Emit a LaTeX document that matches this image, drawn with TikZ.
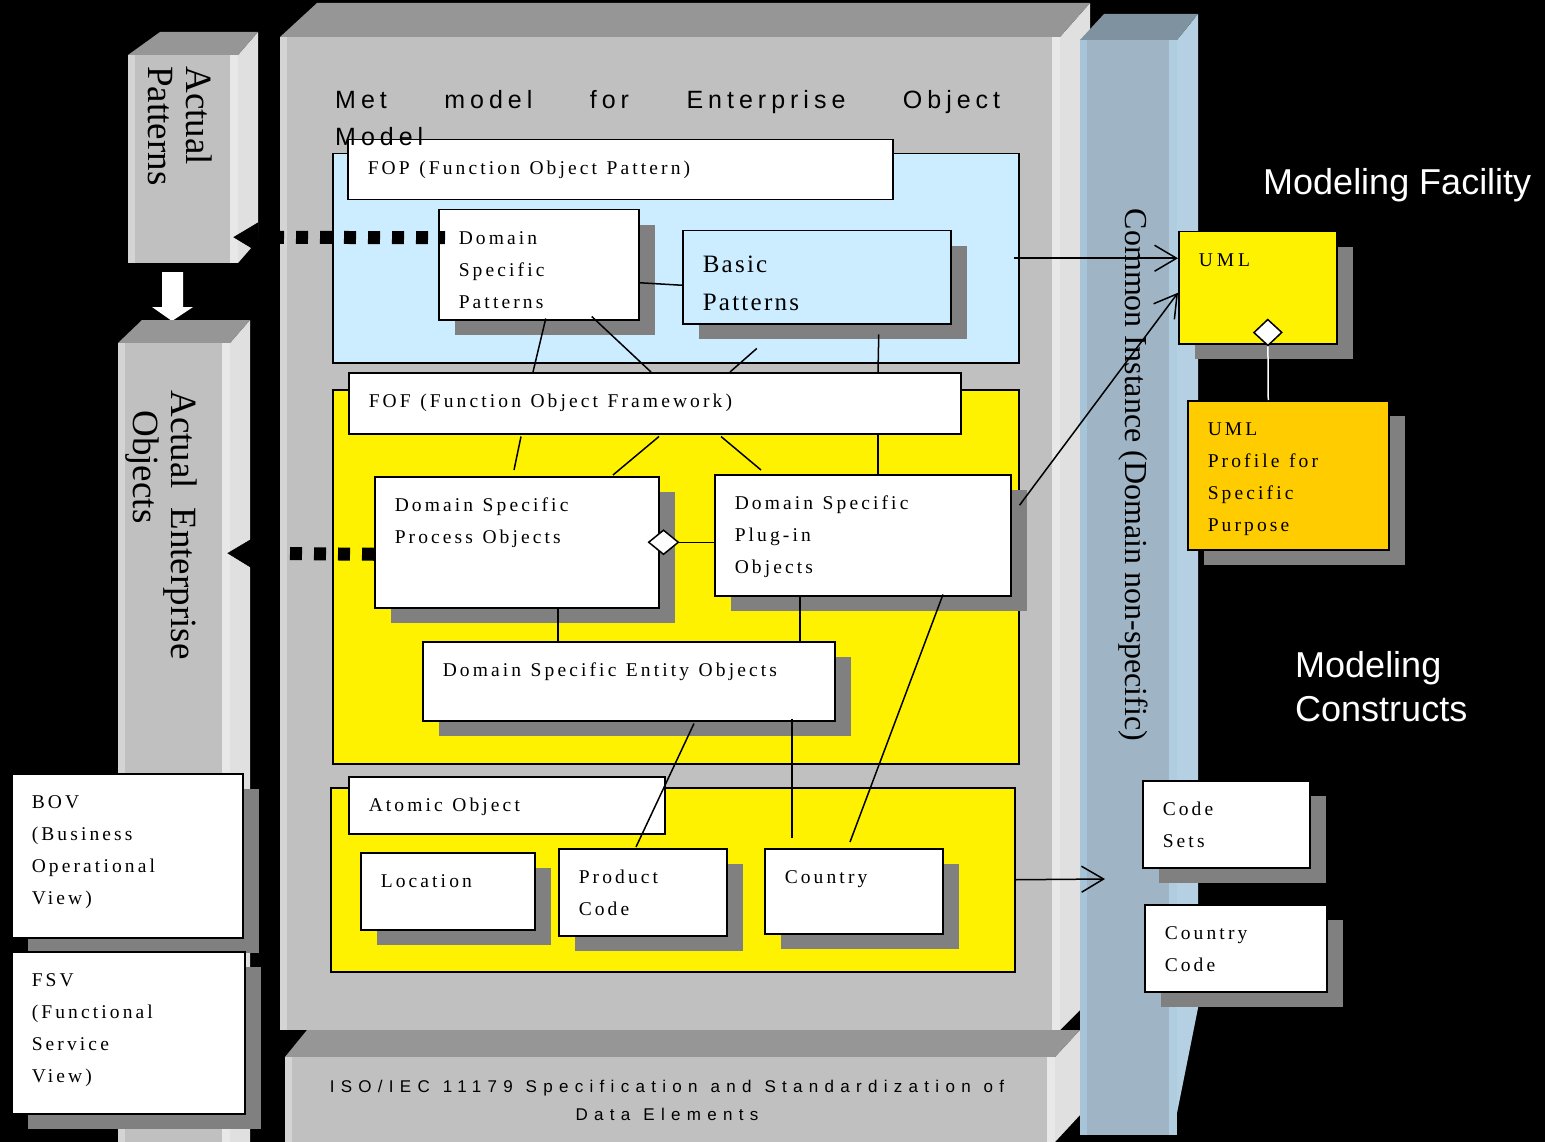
\documentclass[tikz,border=0pt]{standalone}
\usepackage{fontspec}
\usepackage{tikz}
\usetikzlibrary{arrows.meta,shadows}
\setmainfont{Liberation Serif}
\newfontfamily\objfont[LetterSpace=16]{Liberation Serif}
\newfontfamily\basicfont[LetterSpace=9]{Liberation Serif}
\newfontfamily\headfont[LetterSpace=20]{Liberation Sans}
\newfontfamily\isofont[LetterSpace=37]{Liberation Sans}
\newfontfamily\capfont{Liberation Sans}
\definecolor{shadowgray}{HTML}{808080}
\definecolor{slabfront}{HTML}{C0C0C0}
\definecolor{slabtop}{HTML}{969696}
\definecolor{slabside}{HTML}{E0E0E0}
\definecolor{slableft}{HTML}{D4D4D4}
\definecolor{slabright}{HTML}{E8E8E8}
\definecolor{cifront}{HTML}{9FB5C6}
\definecolor{citop}{HTML}{7E929F}
\definecolor{ciside}{HTML}{B4D0E2}
\definecolor{cileft}{HTML}{A8C4D8}
\definecolor{ciright}{HTML}{B0CDE0}
\definecolor{fopblue}{HTML}{CCECFF}
\definecolor{profile}{HTML}{FFCC00}
\tikzset{
  slab/.style n args = {3}{ fill=#1, inner sep=0pt, anchor=north west,
    path picture={
      \fill[#2] (path picture bounding box.north west) rectangle ([xshift=7pt]path picture bounding box.south west);
      \fill[#3] ([xshift=-8pt]path picture bounding box.north east) rectangle (path picture bounding box.south east);
    } },
  wordgap/.style = { execute at begin node={\spaceskip=#1\relax} },
  area/.style    = { draw, line width=1.5pt, inner sep=0pt, anchor=north west, fill=#1 },
  tag/.style     = { draw, line width=1.5pt, fill=white, anchor=north west, align=left,
                     inner xsep=20pt, inner ysep=0pt, text height=35pt, wordgap=9.5pt,
                     font=\objfont\fontsize{19.5}{32}\selectfont },
  box/.style     = { tag, drop shadow={shadow xshift=16pt, shadow yshift=-15pt, fill=shadowgray, opacity=1} },
  boxsize/.style 2 args = { text width=#1pt, text depth=#2pt },
  link/.style    = { line width=1.5pt },
  flow/.style    = { line width=1.5pt, -{Straight Barb[length=22pt, width=26pt]} },
  dots/.style    = { line width=13pt, dash pattern=on 12pt off 12pt,
                     -{Triangle[length=25pt, width=30pt, line width=0.5pt]} },
  rtext/.style   = { rotate=-90, align=left, inner sep=0pt }
}
\begin{document}
\begin{tikzpicture}[x=1pt, y=-1pt]
\useasboundingbox (0,0) rectangle (1545,1142);
\fill[black] (0,0) rectangle (1545,1142);

% enterprise object model block
\fill[slabside] (1060,37) -- (1090,3) -- (1090,1000) -- (1060,1030) -- cycle;
\fill[slabtop] (280,37) -- (317,3) -- (1090,3) -- (1060,37) -- cycle;
\node[slab={slabfront}{slableft}{slabright}, minimum width=780pt, minimum height=993pt] (meta) at (280,37) {};

\fill[slabside] (1055,1057) -- (1080,1030) -- (1080,1115) -- (1055,1142) -- cycle;
\fill[slabtop] (285,1057) -- (307,1030) -- (1080,1030) -- (1055,1057) -- cycle;
\node[slab={slabfront}{slableft}{slabright}, minimum width=770pt, minimum height=90pt] (iso) at (285,1057) {};
\node[font=\isofont\fontsize{17}{28}\selectfont, wordgap=13pt, text width=760pt, align=center, anchor=base, inner sep=0pt] (isotext) at (667,1092) {ISO/IEC 11179 Specification and Standardization of\\Data Elements};

\fill[ciside] (1177,40) -- (1198,14) -- (1198,1008) -- (1177,1113) -- cycle;
\fill[citop] (1080,40) -- (1104,14) -- (1198,14) -- (1177,40) -- cycle;
\node[slab={cifront}{cileft}{ciright}, minimum width=97pt, minimum height=1095pt] (ci) at (1080,40) {};
\node[rtext, font=\fontsize{32}{38}\selectfont] (citext) at (1133,475) {Common Instance (Domain non-specific)};

% actual patterns / objects
\fill[slabside] (238,55) -- (258,32) -- (258,240) -- (238,263) -- cycle;
\fill[slabtop] (128,55) -- (160,32) -- (258,32) -- (238,55) -- cycle;
\node[slab={slabfront}{slableft}{slabright}, minimum width=110pt, minimum height=208pt] (ap) at (128,55) {};
\node[rtext, font=\fontsize{37}{38}\selectfont] (aptext) at (180,126) {Actual\\Patterns};

\fill[white] (162,272) -- (183,272) -- (183,307) -- (193,307) -- (172,321) -- (152,307) -- (162,307) -- cycle;

\fill[slabside] (230,343) -- (250,320) -- (250,1142) -- (230,1142) -- cycle;
\fill[slabtop] (118,343) -- (142,320) -- (250,320) -- (230,343) -- cycle;
\node[slab={slabfront}{slableft}{slabright}, minimum width=112pt, minimum height=800pt] (aeo) at (118,343) {};
\node[rtext, font=\fontsize{37}{38}\selectfont] (aeotext) at (161,525) {Actual\ \ Enterprise\\\hspace*{20pt}Objects};

% regions
\node[area=fopblue, minimum width=686pt, minimum height=209pt] (fop) at (332,153) {};
\node[area=yellow, minimum width=686pt, minimum height=374pt] (fof) at (332,389) {};
\node[area=yellow, minimum width=684pt, minimum height=184pt] (atom) at (330,787) {};

% objects
\node[tag, boxsize={505}{25}] (fopl) at (347,139) {FOP (Function Object Pattern)};
\node[box, boxsize={160}{75}] (dsp) at (438,209) {Domain\\Specific\\Patterns};
\node[box, fill=fopblue, boxsize={228}{51}, text height=42pt, font=\basicfont\fontsize{25}{38}\selectfont] (basic) at (682,230) {Basic\\Patterns};
\node[tag, boxsize={572}{26}] (fofl) at (348,372) {FOF (Function Object Framework)};
\node[box, boxsize={244}{96}] (dspo) at (374,476) {Domain Specific\\Process Objects};
\node[box, boxsize={256}{86}] (plug) at (714,474) {Domain Specific\\Plug-in\\Objects};
\node[box, boxsize={372}{44}] (dseo) at (422,641) {Domain Specific Entity Objects};
\node[tag, boxsize={276}{22}] (atoml) at (348,776) {Atomic Object};
\node[box, boxsize={134}{42}] (loc) at (360,852) {Location};
\node[box, boxsize={128}{52}] (prod) at (558,848) {Product\\Code};
\node[box, boxsize={138}{50}] (country) at (764,848) {Country};
\node[box, fill=yellow, boxsize={118}{77}] (uml) at (1178,231) {U\hspace{4pt}M\hspace{4pt}L};
\node[box, fill=profile, boxsize={161}{114}] (umlp) at (1187,400) {UML\\Profile for\\Specific\\Purpose};
\node[box, boxsize={127}{52}] (codes) at (1142,780) {Code\\Sets};
\node[box, boxsize={142}{52}] (ccode) at (1144,904) {Country\\Code};
\node[box, boxsize={191}{129}] (bov) at (11,773) {BOV\\(Business\\Operational\\View)};
\node[box, boxsize={193}{127}] (fsv) at (11,951) {FSV\\(Functional\\Service\\View)};

% connectors
\draw[link] ([yshift=-18pt]dsp.east) -- ([yshift=-8pt]basic.west);
\draw[link] ([shift={(7,-2)}]dsp.south) -- ([shift={(185,0)}]fofl.north west);
\draw[link] ([shift={(53,-4)}]dsp.south) -- ([shift={(303,0)}]fofl.north west);
\draw[link] ([shift={(-60,24)}]basic.south) -- ([shift={(382,0)}]fofl.north west);
\draw[link] ([shift={(62,10)}]basic.south) -- ([shift={(530,0)}]fofl.north west);
\draw[link] ([shift={(530,0)}]fofl.south west) -- ([shift={(164,0)}]plug.north west);
\draw[link] ([shift={(173,2)}]fofl.south west) -- ([shift={(140,-6)}]dspo.north west);
\draw[link] ([shift={(311,2)}]fofl.south west) -- ([shift={(239,-1)}]dspo.north west);
\draw[link] ([shift={(373,2)}]fofl.south west) -- ([shift={(47,-4)}]plug.north west);
\draw[link] ([shift={(184,0)}]dspo.south west) -- ([shift={(136,0)}]dseo.north west);
\draw[link] ([shift={(86,0)}]plug.south west) -- ([shift={(378,0)}]dseo.north west);
\draw[link] ([shift={(229,-2)}]plug.south west) -- ([shift={(86,-6)}]country.north west);
\draw[link] ([shift={(272,2)}]dseo.south west) -- ([shift={(78,-1)}]prod.north west);
\draw[link] ([shift={(370,-3)}]dseo.south west) -- ([shift={(28,-10)}]country.north west);
\draw[link, {Diamond[length=32pt, width=26pt, fill=white, line width=1.5pt]}-] ([xshift=-12pt]dspo.east) -- (dspo.east -| plug.west);
\draw[line width=1.5pt, white, {Diamond[length=28pt, width=30pt, color=black, fill=white, line width=1.5pt]}-] ([shift={(10,-26)}]uml.south) -- ([xshift=-20pt]umlp.north);

\coordinate (ciin) at (1105,879);
\draw[flow] ([xshift=-6pt]fop.east) -- (fop.east -| uml.west);
\draw[flow] ([shift={(8,-30)}]plug.east) -- ([shift={(0,5)}]uml.west);
\draw[flow] (atom.east) -- (ciin);

\draw[dots, dash phase=7pt] ([shift={(7,-27)}]dsp.west) -- ([shift={(-5,78)}]ap.east);
\draw[dots] ([yshift=-12pt]dspo.west) -- ([shift={(-3,-190)}]aeo.east);

% titles
\node[font=\headfont\fontsize{25}{37}\selectfont, text width=665pt, align=left, anchor=base west, inner sep=0pt] (title) at (335,109) {Met\hfill model\hfill for\hfill Enterprise\hfill Object\\Model};
\node[font=\capfont\fontsize{36}{44}\selectfont, text=white, anchor=base west, inner sep=0pt] (facility) at (1263,195) {Modeling Facility};
\node[font=\capfont\fontsize{36}{44}\selectfont, text=white, text width=250pt, align=left, anchor=base west, inner sep=0pt] (constructs) at (1295,677) {Modeling\\Constructs};
\end{tikzpicture}
\end{document}
